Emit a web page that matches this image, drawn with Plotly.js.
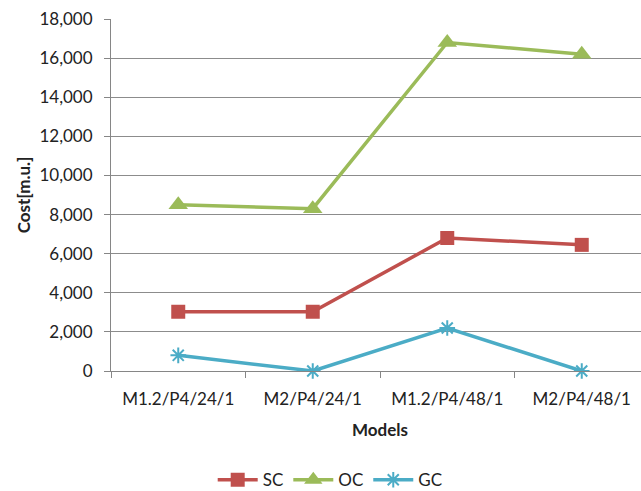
<!DOCTYPE html>
<html>
<head>
<meta charset="utf-8">
<script src="https://cdn.plot.ly/plotly-3.0.1.min.js"></script>
<style>
  html, body { margin: 0; padding: 0; overflow: hidden; background: #fff; }
  #chart { width: 650px; height: 491px; }
</style>
</head>
<body>
<div id="chart"></div>
<script>
// Cost per model, in monetary units
const models = ["M1.2/P4/24/1", "M2/P4/24/1", "M1.2/P4/48/1", "M2/P4/48/1"];
const sc = [3030, 3030, 6800, 6450];
const oc = [8500, 8300, 16800, 16200];
const gc = [800, 0, 2200, 0];
const yTicks = [0, 2000, 4000, 6000, 8000, 10000, 12000, 14000, 16000, 18000];

const font = "Lato, 'Open Sans', 'DejaVu Sans', sans-serif";

function series(name, y, color, symbol, size, lineW) {
  return {
    x: models, y: y, name: name, type: "scatter", mode: "lines+markers",
    line: { color: color, width: 3.5 },
    marker: { symbol: symbol, size: size, color: color, line: { color: color, width: lineW } },
    cliponaxis: false
  };
}

const data = [
  series("SC", sc, "#C0504D", "square", 14, 0),
  series("OC", oc, "#9BBB59", "triangle-up", 17, 0),
  series("GC", gc, "#4BACC6", "asterisk-open", 13, 2)
];

const layout = {
  width: 650, height: 491,
  margin: { l: 111, r: 1, t: 19, b: 120 },
  paper_bgcolor: "#fff", plot_bgcolor: "#fff",
  font: { family: font, size: 17, color: "#222" },
  showlegend: true,
  legend: {
    orientation: "h", xref: "container", yref: "container",
    x: 0.508, xanchor: "center", y: 0.022, yanchor: "middle",
    font: { size: 17 }, itemwidth: 40, tracegroupgap: 0
  },
  xaxis: {
    type: "category", range: [-0.5, 3.5],
    showgrid: false, showline: true, linecolor: "#868686", linewidth: 1,
    ticks: "outside", tickson: "boundaries", ticklen: 6, tickcolor: "#868686",
    tickfont: { size: 17 }, zeroline: false, ticklabelstandoff: 13,
    title: { text: "<b>Models</b>", font: { size: 17 }, standoff: 15 }
  },
  yaxis: {
    range: [0, 18000], tickvals: yTicks, tickformat: ",d",
    showgrid: true, gridcolor: "#8c8c8c", gridwidth: 1,
    showline: true, linecolor: "#868686", linewidth: 1,
    ticks: "outside", ticklen: 6, tickcolor: "#868686",
    tickfont: { size: 17 }, zeroline: false, ticklabelstandoff: 8,
    title: { text: "<b>Cost[m.u.]</b>", font: { size: 17 }, standoff: 4 }
  }
};

Plotly.newPlot("chart", data, layout, { displayModeBar: false, staticPlot: true });
</script>
</body>
</html>
